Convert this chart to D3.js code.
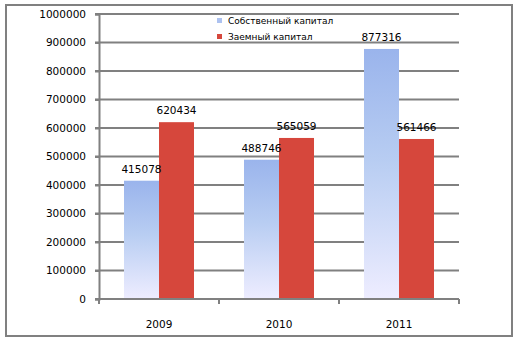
<!DOCTYPE html>
<html><head><meta charset="utf-8">
<script src="https://cdn.jsdelivr.net/npm/d3@7"></script>
<style>body{margin:0;background:#fff}svg{display:block}</style>
</head><body>
<script>
const years = ["2009", "2010", "2011"];
const seriesNames = ["Собственный капитал", "Заемный капитал"];
const ownCapital = [415078, 488746, 877316];
const borrowedCapital = [620434, 565059, 561466];
const yTicks = [0, 100000, 200000, 300000, 400000, 500000, 600000, 700000, 800000, 900000, 1000000];

const W = 517, H = 341;
const svg = d3.select("body").append("svg").attr("width", W).attr("height", H);
const defs = svg.append("defs");
const g1 = defs.append("linearGradient").attr("id", "blueGrad").attr("x1", 0).attr("y1", 0).attr("x2", 0).attr("y2", 1);
g1.append("stop").attr("offset", "0%").attr("stop-color", "#9ab4ec");
g1.append("stop").attr("offset", "45%").attr("stop-color", "#b8cdf2");
g1.append("stop").attr("offset", "100%").attr("stop-color", "#eeedff");

const font = "DejaVu Sans";
const gray = "#808080";

// outer frame
svg.append("rect").attr("x", 6).attr("y", 5).attr("width", 506).attr("height", 331)
  .attr("fill", "#fff").attr("stroke", gray).attr("stroke-width", 2);

const x0 = d3.scaleBand().domain(years).range([99, 459]).padding(0);
const x1 = d3.scaleBand().domain([0, 1]).range([0, x0.bandwidth()]).paddingInner(0).paddingOuter(0.714);
const y = d3.scaleLinear().domain([0, 1000000]).range([299, 14]);

// gridlines
svg.append("g").selectAll("line").data(yTicks.filter(d => d > 0)).join("line")
  .attr("x1", 95).attr("x2", 459).attr("y1", d => y(d)).attr("y2", d => y(d))
  .attr("stroke", gray).attr("stroke-width", 2);

// y axis
const yAxis = svg.append("g").attr("transform", "translate(99,0)")
  .call(d3.axisLeft(y).tickValues(yTicks).tickSize(4).tickPadding(9).tickFormat(d3.format("d")));
yAxis.select(".domain").attr("stroke", gray).attr("stroke-width", 2);
yAxis.selectAll(".tick line").attr("stroke", gray).attr("stroke-width", 2);
yAxis.selectAll("text").attr("font-family", font).attr("font-size", "10.5px").attr("fill", "#000");

// bars
const data = years.map((yr, i) => ({year: yr, vals: [ownCapital[i], borrowedCapital[i]]}));
const groups = svg.append("g").selectAll("g").data(data).join("g")
  .attr("transform", d => `translate(${x0(d.year)},0)`);
groups.selectAll("rect").data(d => d.vals.map((v, k) => ({k, v}))).join("rect")
  .attr("x", d => x1(d.k)).attr("width", x1.bandwidth())
  .attr("y", d => y(d.v)).attr("height", d => y(0) - y(d.v))
  .attr("fill", d => d.k === 0 ? "url(#blueGrad)" : "#d6473c");
groups.selectAll("text").data(d => d.vals.map((v, k) => ({k, v}))).join("text")
  .attr("x", d => x1(d.k) + x1.bandwidth() / 2).attr("y", d => y(d.v) - 8)
  .attr("text-anchor", "middle").attr("font-family", font).attr("font-size", "10.5px")
  .attr("fill", "#000").text(d => d.v);

// x axis
const xAxis = svg.append("g").attr("transform", "translate(0,299)")
  .call(d3.axisBottom(x0).tickSize(0).tickPadding(22));
xAxis.select(".domain").remove();
xAxis.selectAll("text").attr("font-family", font).attr("font-size", "10.5px").attr("fill", "#000");
svg.append("line").attr("x1", 95).attr("x2", 459).attr("y1", 299).attr("y2", 299)
  .attr("stroke", gray).attr("stroke-width", 2);
svg.append("g").selectAll("line").data([0, 1, 2, 3]).join("line")
  .attr("x1", i => i < 3 ? x0(years[i]) : x0(years[2]) + x0.bandwidth())
  .attr("x2", i => i < 3 ? x0(years[i]) : x0(years[2]) + x0.bandwidth())
  .attr("y1", 299).attr("y2", 304).attr("stroke", gray).attr("stroke-width", 2);

// legend
const leg = svg.append("g").selectAll("g").data(seriesNames).join("g")
  .attr("transform", (d, i) => `translate(217,${21 + i * 16})`);
leg.append("rect").attr("x", 0).attr("y", -3).attr("width", 5).attr("height", 5)
  .attr("fill", (d, i) => i === 0 ? "#adc2f0" : "#d6473c");
leg.append("text").attr("x", 11).attr("y", 0).attr("dy", "0.35em")
  .attr("font-family", font).attr("font-size", "9px").attr("fill", "#000").text(d => d);
</script>
</body></html>
